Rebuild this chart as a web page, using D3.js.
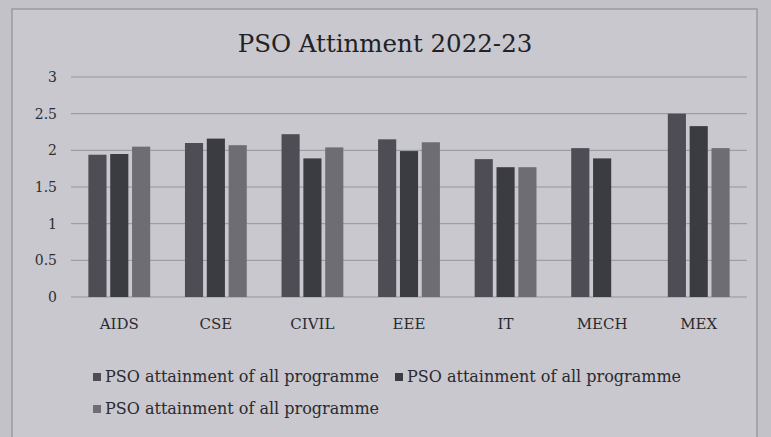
<!DOCTYPE html>
<html>
<head>
<meta charset="utf-8">
<script src="https://cdn.jsdelivr.net/npm/d3@7"></script>
<style>
  body { margin: 0; background: #c3c2c9; }
  svg { display: block; }
</style>
</head>
<body>
<svg width="771" height="437"></svg>
<script>
// chart values
const categories = ["AIDS", "CSE", "CIVIL", "EEE", "IT", "MECH", "MEX"];
const series1 = [1.94, 2.10, 2.22, 2.15, 1.88, 2.03, 2.50];
const series2 = [1.95, 2.16, 1.89, 1.99, 1.77, 1.89, 2.33];
const series3 = [2.05, 2.07, 2.04, 2.11, 1.77, null, 2.03];
const seriesNames = [
  "PSO attainment of all programme",
  "PSO attainment of all programme",
  "PSO attainment of all programme"
];
const yTicks = [0, 0.5, 1, 1.5, 2, 2.5, 3];

const colors = ["#4e4d55", "#3b3b42", "#6e6d73"];
const allSeries = [series1, series2, series3];

const svg = d3.select("svg");

// paper card
svg.append("rect")
  .attr("x", 12).attr("y", 9)
  .attr("width", 745).attr("height", 440)
  .attr("fill", "#c9c8ce")
  .attr("stroke", "#9c9ba2")
  .attr("stroke-width", 1.5);

const margin = { top: 77, right: 24, bottom: 140, left: 71 };
const width = 771 - margin.left - margin.right;
const height = 437 - margin.top - margin.bottom;

const g = svg.append("g")
  .attr("transform", `translate(${margin.left},${margin.top})`);

const x = d3.scaleBand()
  .domain(categories)
  .range([0, width]);

const y = d3.scaleLinear()
  .domain([0, 3])
  .range([height, 0]);

// gridlines
g.selectAll(".grid")
  .data(yTicks)
  .enter().append("line")
  .attr("class", "grid")
  .attr("x1", 0).attr("x2", width)
  .attr("y1", d => y(d)).attr("y2", d => y(d))
  .attr("stroke", "#96959c")
  .attr("stroke-width", 1);

// y axis labels
const yAxis = g.append("g")
  .call(d3.axisLeft(y).tickValues(yTicks).tickSize(0).tickPadding(14).tickFormat(d => String(d)));
yAxis.select(".domain").remove();
yAxis.selectAll("text")
  .attr("font-family", "DejaVu Serif")
  .attr("font-size", 14)
  .attr("fill", "#2e2e33");

// x axis labels
const xAxis = g.append("g")
  .attr("transform", `translate(0,${height})`)
  .call(d3.axisBottom(x).tickSize(0).tickPadding(21));
xAxis.select(".domain").remove();
xAxis.selectAll("text")
  .attr("font-family", "DejaVu Serif")
  .attr("font-size", 15)
  .attr("fill", "#2a2a30");

// bars
const x1 = d3.scaleBand()
  .domain([0, 1, 2])
  .range([x.bandwidth() * 0.18, x.bandwidth() * 0.82])
  .paddingInner(0.17);

allSeries.forEach((vals, i) => {
  g.selectAll(".bar" + i)
    .data(categories.map((c, j) => ({ c, v: vals[j] })).filter(d => d.v != null))
    .enter().append("rect")
    .attr("class", "bar" + i)
    .attr("x", d => x(d.c) + x1(i))
    .attr("y", d => y(d.v))
    .attr("width", x1.bandwidth())
    .attr("height", d => height - y(d.v))
    .attr("fill", colors[i]);
});

// title
svg.append("text")
  .attr("x", 385).attr("y", 52)
  .attr("text-anchor", "middle")
  .attr("font-family", "DejaVu Serif")
  .attr("font-size", 24.5)
  .attr("fill", "#222226")
  .text("PSO Attinment 2022-23");

// legend
const legendPos = [[93, 382], [395, 382], [93, 414]];
const legend = svg.selectAll(".legend")
  .data(seriesNames)
  .enter().append("g")
  .attr("class", "legend")
  .attr("transform", (d, i) => `translate(${legendPos[i][0]},${legendPos[i][1]})`);

legend.append("rect")
  .attr("x", 0).attr("y", -9)
  .attr("width", 8).attr("height", 8)
  .attr("fill", (d, i) => colors[i]);

legend.append("text")
  .attr("x", 12).attr("y", 0)
  .attr("font-family", "DejaVu Serif")
  .attr("font-size", 16)
  .attr("fill", "#2a2a30")
  .text(d => d);
</script>
</body>
</html>
